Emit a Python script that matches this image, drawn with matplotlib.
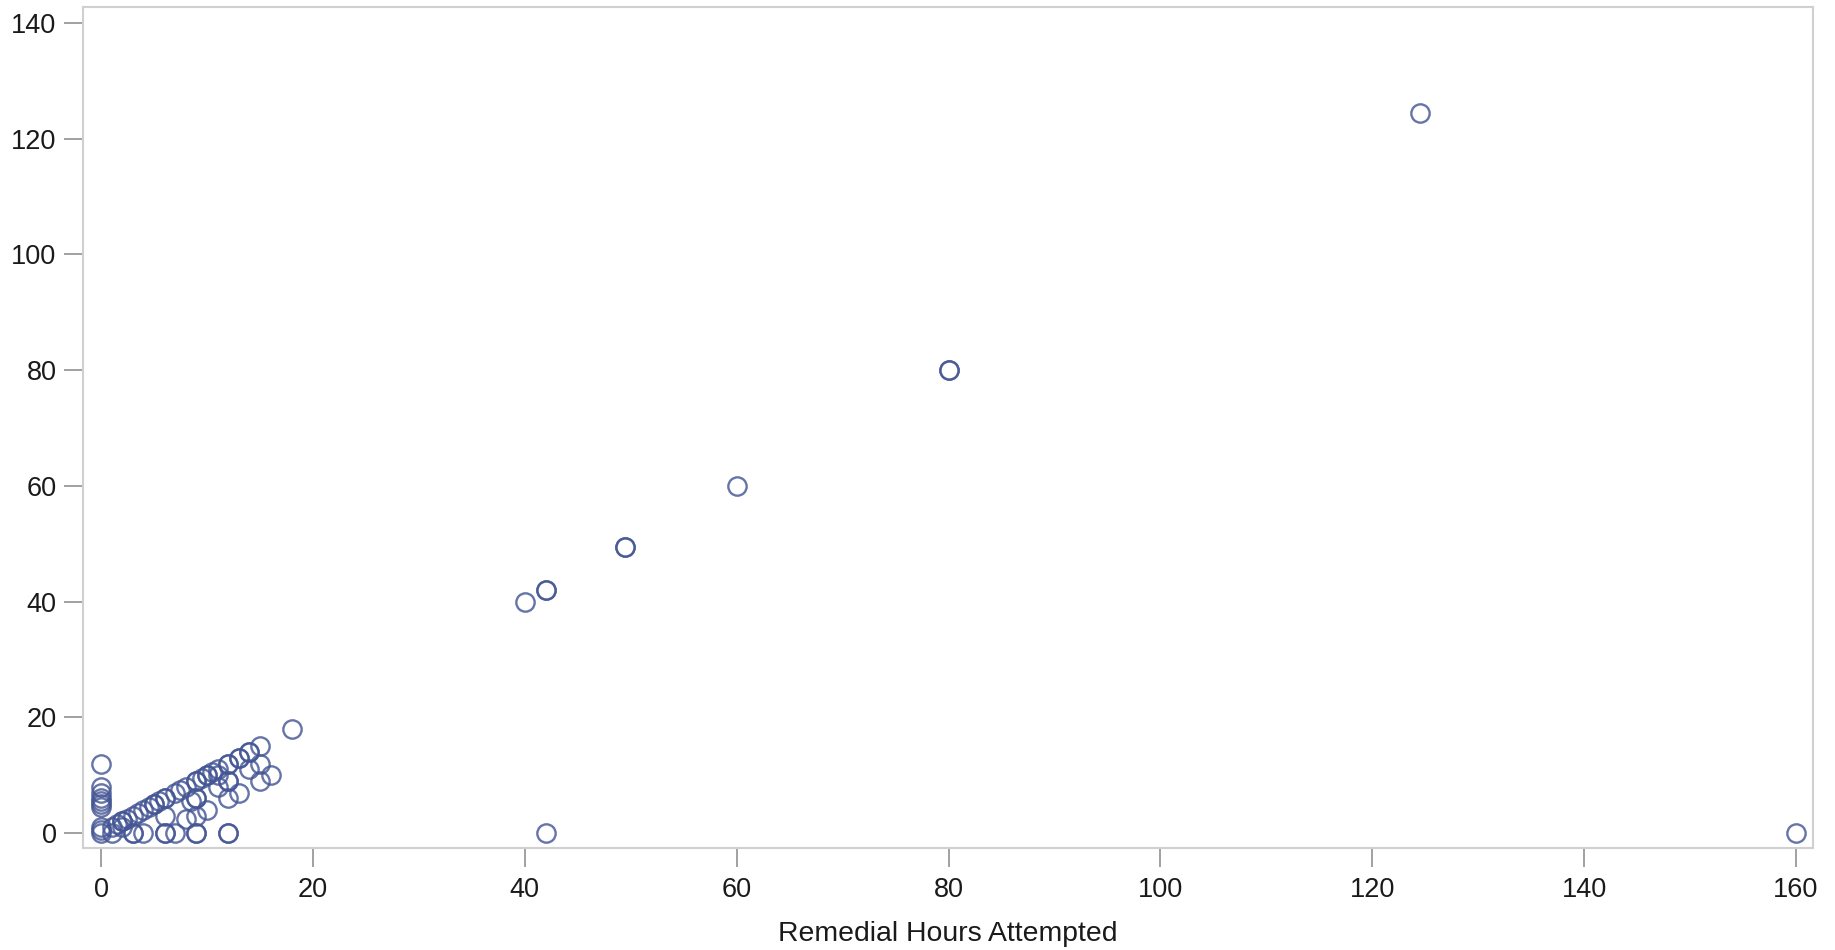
import matplotlib
matplotlib.use("Agg")
import matplotlib.pyplot as plt

# Remedial hours attempted (x) vs. remedial hours earned (y)
hours_attempted = [
    124.5, 80, 80, 60, 49.5, 49.5, 42, 42, 40, 18, 42, 160,
    0, 0, 0, 0, 0, 0, 0, 0, 0, 0,
    1, 1, 1.5, 2, 2, 2, 2.5, 3, 3, 3.5, 4, 4.5, 5, 5, 5.5, 6, 6, 7, 7.5, 8, 9, 9,
    9.5, 10, 10, 10.5, 11, 12, 12, 13, 13, 14, 14, 15,
    3, 4, 6, 6, 7, 9, 9, 12, 12,
    6, 8, 9, 10, 9, 9, 12, 13, 11, 12, 12, 14, 15, 16, 15, 8.5, 11,
]
hours_earned = [
    124.5, 80, 80, 60, 49.5, 49.5, 42, 42, 40, 18, 0, 0,
    12, 8, 7, 6, 5.5, 5, 4.5, 1, 0.5, 0,
    1, 0, 1.5, 2, 1, 2, 2.5, 3, 0, 3.5, 4, 4.5, 5, 5, 5.5, 6, 6, 7, 7.5, 8, 9, 9,
    9.5, 10, 10, 10.5, 11, 12, 12, 13, 13, 14, 14, 15,
    0, 0, 0, 0, 0, 0, 0, 0, 0,
    3, 2.5, 3, 4, 6, 6, 6, 7, 8, 9, 9, 11, 9, 10, 12, 5.5, 10,
]

x_ticks = [0, 20, 40, 60, 80, 100, 120, 140, 160]
y_ticks = [0, 20, 40, 60, 80, 100, 120, 140]
x_label = "Remedial Hours Attempted"

plt.rcParams['font.family'] = ['Liberation Sans', 'DejaVu Sans']

W, H = 1835, 950
fig = plt.figure(figsize=(W / 100, H / 100), dpi=100)
ax = fig.add_axes([83 / W, 1 - 848 / H, (1813 - 83) / W, (848 - 7) / H])

ax.plot(hours_attempted, hours_earned, linestyle='none', marker='o',
        markersize=13.2, markerfacecolor='none', markeredgecolor='#445694',
        markeredgewidth=1.7, alpha=0.82, clip_on=False)

ax.set_xlim(-1.70, 161.6)
ax.set_ylim(-2.59, 142.76)
ax.set_xticks(x_ticks)
ax.set_yticks(y_ticks)

for s in ax.spines.values():
    s.set_color('#d0d0d0')
    s.set_linewidth(1.5)

ax.tick_params(axis='both', direction='out', length=14, width=1.3,
               color='#9a9a9a', labelsize=19.5, labelcolor='#1a1a1a')
ax.tick_params(axis='y', pad=5)
ax.tick_params(axis='x', pad=7)

ax.set_xlabel(x_label, fontsize=20.4, color='#1a1a1a')
ax.xaxis.set_label_coords(0.5, (1 - 934 / H - (1 - 848 / H)) / ((848 - 7) / H))
ax.xaxis.label.set_va('center')

fig.savefig('out.png', dpi=100)
